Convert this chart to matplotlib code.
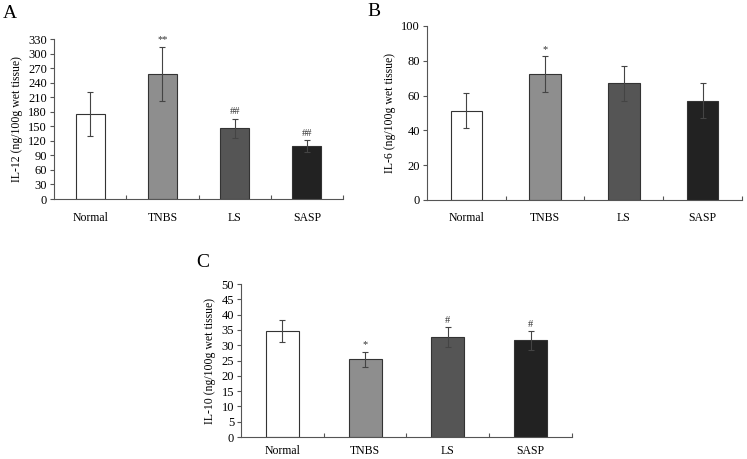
import numpy as np
import matplotlib
matplotlib.use('Agg')
import matplotlib.pyplot as plt

plt.rcParams['font.family'] = ['Liberation Serif', 'DejaVu Serif']

# adatok
groups = ['Normal', 'TNBS', 'LS', 'SASP']
colors = ['#ffffff', '#8e8e8e', '#555555', '#222222']

il12 = [175, 258, 146, 109]
il12_err = [46, 56, 20, 12]
il12_marks = ['', '**', '##', '##']

il6 = [51.3, 72.4, 67.0, 57.0]
il6_err = [10.0, 10.2, 10.0, 10.0]
il6_marks = ['', '*', '', '']

il10 = [34.5, 25.4, 32.6, 31.6]
il10_err = [3.6, 2.5, 3.3, 3.1]
il10_marks = ['', '*', '#', '#']

fig = plt.figure(figsize=(7.47, 4.59), dpi=100)

panels = [
    ('A', [0.0723, 0.5664, 0.3869, 0.3486], il12, il12_err, il12_marks,
     'IL-12 (ng/100g wet tissue)', np.arange(0, 331, 30), 330, 9),
    ('B', [0.5716, 0.5643, 0.4217, 0.3791], il6, il6_err, il6_marks,
     'IL-6 (ng/100g wet tissue)', np.arange(0, 101, 20), 100, 9),
    ('C', [0.3226, 0.0479, 0.4431, 0.3333], il10, il10_err, il10_marks,
     'IL-10 (ng/100g wet tissue)', np.arange(0, 51, 5), 50, 6),
]
letter_pos = {'A': (0.004, 0.99), 'B': (0.492, 0.993), 'C': (0.263, 0.447)}

for name, rect, vals, errs, marks, ylab, yt, ymax, xpad in panels:
    ax = fig.add_axes(rect)
    x = np.arange(len(groups))
    ax.bar(x, vals, width=0.4, color=colors, edgecolor='#333333', linewidth=0.8,
           yerr=errs, error_kw=dict(ecolor='#444444', elinewidth=0.8, capsize=2, capthick=0.8))
    for xi, v, e, m in zip(x, vals, errs, marks):
        if m:
            ax.text(xi, v + e + ymax * 0.015, m, ha='center', va='bottom', fontsize=7.5, color='#333333')
    ax.set_xlim(-0.5, 3.5)
    ax.set_ylim(0, ymax)
    ax.set_yticks(yt)
    ax.set_xticks([0.5, 1.5, 2.5, 3.5])
    ax.set_xticklabels([])
    ax.set_xticks(x, minor=True)
    ax.set_xticklabels(groups, minor=True, fontsize=8.5)
    ax.tick_params(axis='x', which='minor', length=0, pad=xpad)
    ax.tick_params(axis='x', which='major', direction='in', length=3, color='#555555')
    ax.tick_params(axis='y', direction='out', length=3, labelsize=9, color='#555555', pad=2)
    for s in ['top', 'right']:
        ax.spines[s].set_visible(False)
    for s in ['left', 'bottom']:
        ax.spines[s].set_color('#555555')
        ax.spines[s].set_linewidth(0.8)
    ax.set_ylabel(ylab, fontsize=8.5, labelpad=4)
    lx, ly = letter_pos[name]
    fig.text(lx, ly, name, fontsize=14, ha='left', va='top')

fig.savefig('out.png', dpi=100)
